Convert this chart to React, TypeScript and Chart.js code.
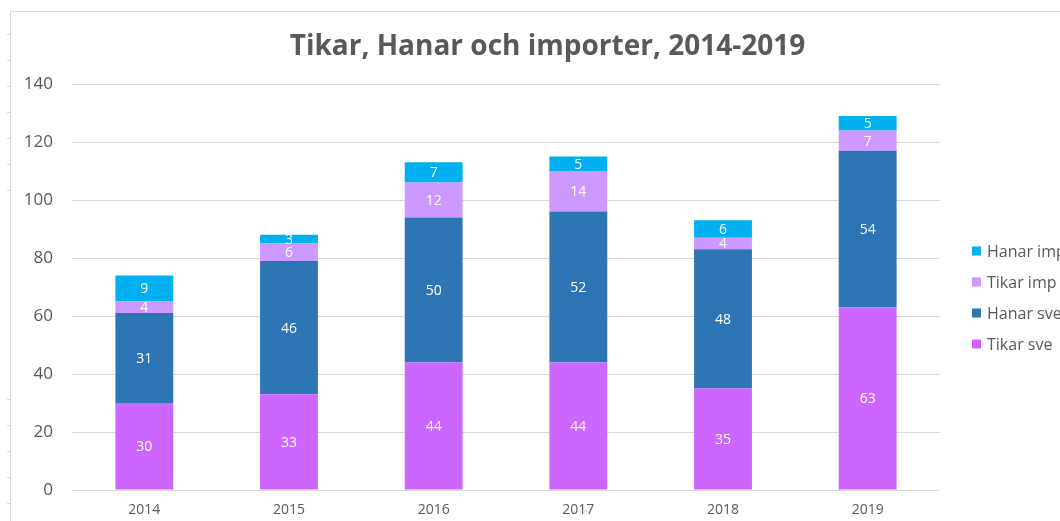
import React, { useEffect, useRef } from "react";
import { Chart, registerables } from "chart.js";

Chart.register(...registerables);

const years = ["2014", "2015", "2016", "2017", "2018", "2019"];
const tikarSve = [30, 33, 44, 44, 35, 63];
const hanarSve = [31, 46, 50, 52, 48, 54];
const tikarImp = [4, 6, 12, 14, 4, 7];
const hanarImp = [9, 3, 7, 5, 6, 5];
const yTicks = [0, 20, 40, 60, 80, 100, 120, 140];
const chartTitle = "Tikar, Hanar och importer, 2014-2019";

const FONT = "'Open Sans', 'Noto Sans', sans-serif";
const GRAY = "#595959";

const titlePlugin = {
  id: "customTitle",
  afterDraw(chart: any) {
    const ctx = chart.ctx;
    ctx.save();
    ctx.fillStyle = GRAY;
    ctx.font = `bold 28px ${FONT}`;
    ctx.textAlign = "center";
    ctx.textBaseline = "alphabetic";
    ctx.fillText(chartTitle, 547.5, 55);
    ctx.restore();
  },
};

const dataLabelPlugin = {
  id: "dataLabels",
  afterDatasetsDraw(chart: any) {
    const ctx = chart.ctx;
    ctx.save();
    ctx.fillStyle = "#ffffff";
    ctx.font = `14px ${FONT}`;
    ctx.textAlign = "center";
    ctx.textBaseline = "middle";
    chart.data.datasets.forEach((ds: any, i: number) => {
      const meta = chart.getDatasetMeta(i);
      meta.data.forEach((el: any, j: number) => {
        const v = ds.data[j];
        const cy = (el.y + el.base) / 2;
        ctx.fillText(String(v), el.x, cy + 1);
      });
    });
    ctx.restore();
  },
};

const legendPlugin = {
  id: "customLegend",
  afterDraw(chart: any) {
    const ctx = chart.ctx;
    ctx.save();
    const n = chart.data.datasets.length;
    const x0 = 972;
    const yStart = 251;
    const step = 31;
    ctx.font = `16px ${FONT}`;
    ctx.textAlign = "left";
    ctx.textBaseline = "middle";
    for (let k = 0; k < n; k++) {
      const ds = chart.data.datasets[n - 1 - k];
      const cy = yStart + k * step;
      ctx.fillStyle = ds.backgroundColor;
      ctx.fillRect(x0, cy - 4.5, 9, 9);
      ctx.fillStyle = GRAY;
      ctx.fillText(ds.label, x0 + 15, cy + 1);
    }
    ctx.restore();
  },
};

export default function App() {
  const ref = useRef<HTMLCanvasElement | null>(null);

  useEffect(() => {
    if (!ref.current) return;
    const chart = new Chart(ref.current, {
      type: "bar",
      data: {
        labels: years,
        datasets: [
          { label: "Tikar sve", data: tikarSve, backgroundColor: "#CC66FF" },
          { label: "Hanar sve", data: hanarSve, backgroundColor: "#2E75B6" },
          { label: "Tikar imp", data: tikarImp, backgroundColor: "#CC99FF" },
          { label: "Hanar imp", data: hanarImp, backgroundColor: "#00B0F0" },
        ],
      },
      options: {
        responsive: false,
        animation: false,
        devicePixelRatio: 1,
        layout: { padding: { left: 0, right: 155, top: 84, bottom: 0 } },
        datasets: {
          bar: { categoryPercentage: 0.8, barPercentage: 0.5 },
        },
        plugins: {
          legend: { display: false },
          tooltip: { enabled: false },
          title: { display: false },
        },
        scales: {
          x: {
            stacked: true,
            grid: { display: false, drawTicks: false },
            border: { display: false },
            ticks: { color: GRAY, font: { family: FONT, size: 14 }, padding: 12 },
            afterFit: (s: any) => {
              s.height = 31;
            },
          },
          y: {
            stacked: true,
            min: 0,
            max: 140,
            afterBuildTicks: (s: any) => {
              s.ticks = yTicks.map((v) => ({ value: v }));
            },
            grid: { color: "#D9D9D9", drawTicks: false, lineWidth: 1 },
            border: { display: false },
            ticks: { color: GRAY, font: { family: FONT, size: 17 }, padding: 19 },
            afterFit: (s: any) => {
              s.width = 72;
            },
          },
        },
      },
      plugins: [dataLabelPlugin, legendPlugin, titlePlugin],
    });
    return () => chart.destroy();
  }, []);

  const marks: number[] = [];
  for (let y = 34; y <= 191; y += 26) marks.push(y);
  for (let y = 399; y <= 515; y += 26) marks.push(y);

  return (
    <div
      style={{
        position: "fixed",
        left: 0,
        top: 0,
        width: 1060,
        height: 521,
        overflow: "hidden",
        background: "#ffffff",
      }}
    >
      <canvas
        ref={ref}
        width={1095}
        height={521}
        style={{ position: "absolute", left: 0, top: 0, width: 1095, height: 521 }}
      />
      <div
        style={{
          position: "absolute",
          left: 10,
          top: 11,
          width: 1060,
          height: 520,
          borderLeft: "1px solid #D9D9D9",
          borderTop: "1px solid #D9D9D9",
        }}
      />
      {marks.map((y) => (
        <div
          key={y}
          style={{
            position: "absolute",
            left: 7,
            top: y,
            width: 3,
            height: 1,
            background: "#D9D9D9",
          }}
        />
      ))}
    </div>
  );
}
